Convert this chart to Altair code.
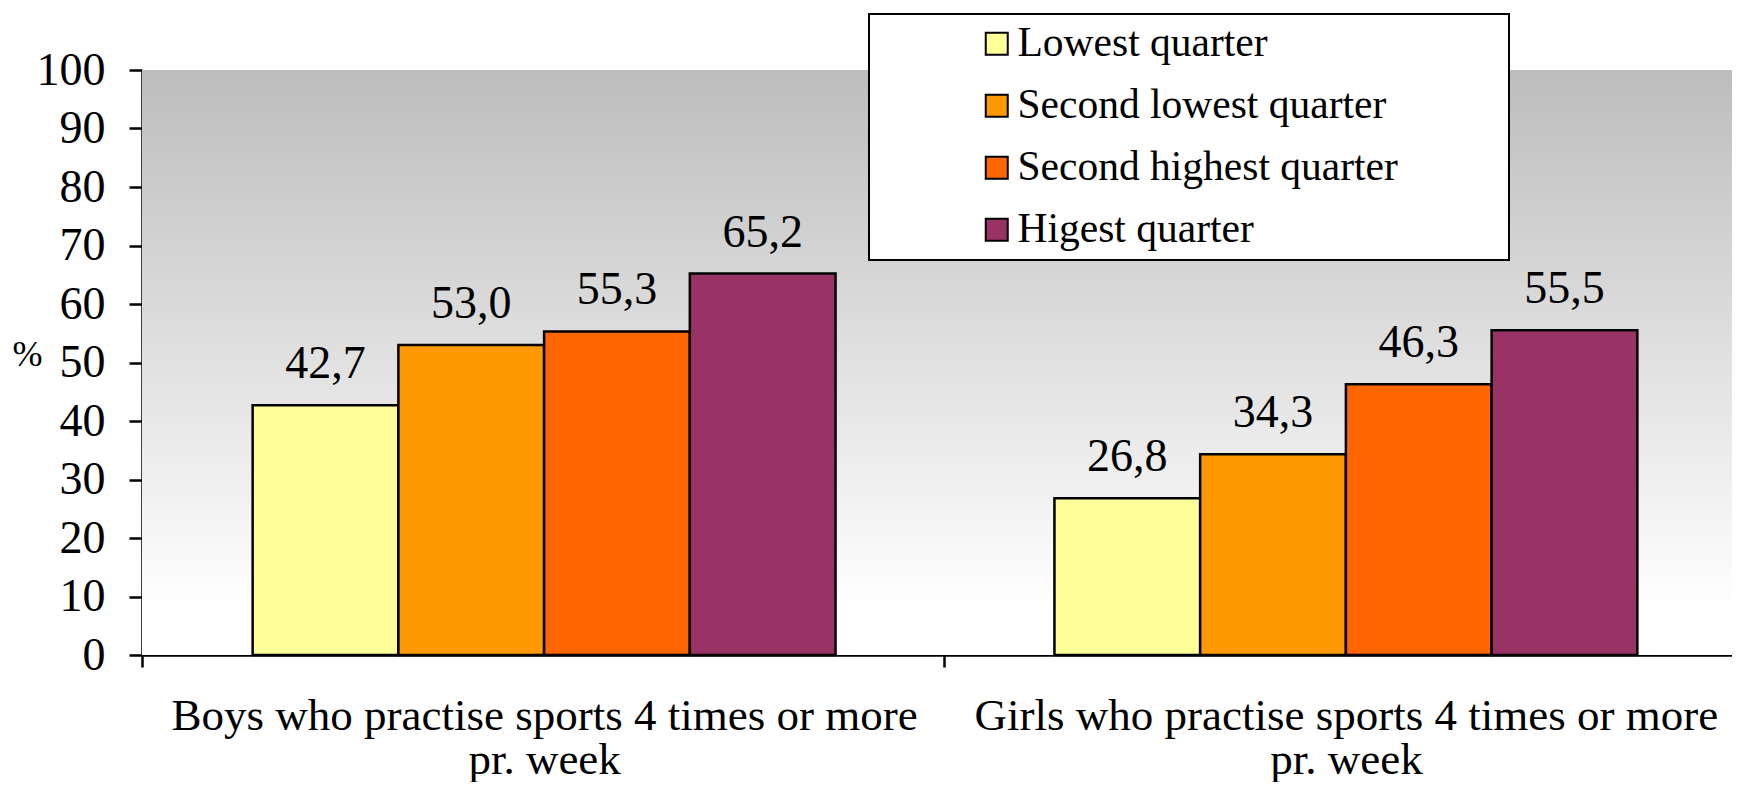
import altair as alt
import pandas as pd

categories = [
    "Boys who practise sports 4 times or more\npr. week",
    "Girls who practise sports 4 times or more\npr. week",
]
quarters = ["Lowest quarter", "Second lowest quarter", "Second highest quarter", "Higest quarter"]
colors = ["#FFFF99", "#FF9900", "#FF6600", "#993366"]
boys = [42.7, 53.0, 55.3, 65.2]
girls = [26.8, 34.3, 46.3, 55.5]
y_ticks = [0, 10, 20, 30, 40, 50, 60, 70, 80, 90, 100]

rows = []
for cat, vals in zip(categories, [boys, girls]):
    for q, v in zip(quarters, vals):
        rows.append({"category": cat, "quarter": q, "value": v})
df = pd.DataFrame(rows)
bg = pd.DataFrame({"top": [100], "bottom": [0]})

FONT = "Liberation Serif"
W = 1590          # visible plot width (fits the page)
RANGE = 1606      # x range: the second band continues past the page edge
PI, PO = 0.273, 0.138
STEP = RANGE / (2 - PI + 2 * PO)
OUTER = PO * STEP

x_enc = alt.X(
    "category:N",
    sort=categories,
    scale=alt.Scale(range=[0, RANGE], paddingInner=PI, paddingOuter=PO),
    axis=alt.Axis(
        title=None, labelAngle=0, labelExpr="split(datum.label, '\\n')",
        labelFont=FONT, labelFontSize=45, labelColor="black", labelLimit=2000,
        labelLineHeight=44, labelPadding=26, bandPosition=0, tickOffset=-OUTER,
        labelOffset=OUTER, tickSize=12,
        tickWidth=2.5, tickColor="black", domainColor="black", domainWidth=2.5,
    ),
)
y_enc = alt.Y(
    "value:Q",
    scale=alt.Scale(domain=[0, 100], nice=False),
    axis=alt.Axis(
        values=y_ticks, title="%", titleAngle=0, titleFont=FONT, titleFontSize=36,
        titleFontWeight="normal", titleColor="black", titleAlign="left",
        titleBaseline="middle", titleX=-130, titleY=284,
        labelFont=FONT, labelFontSize=46, labelColor="black", labelPadding=24,
        tickSize=13, tickWidth=2.5, tickColor="black", domainColor="black",
        domainWidth=2.5, grid=False,
    ),
)

gradient = alt.LinearGradient(
    gradient="linear", x1=0, y1=0, x2=0, y2=1,
    stops=[alt.GradientStop(offset=0, color="#bdbdbd"),
           alt.GradientStop(offset=0.92, color="#ffffff"),
           alt.GradientStop(offset=1, color="#ffffff")],
)

background = alt.Chart(bg).mark_rect(x=0, x2="width", fill=gradient).encode(
    y=alt.Y("top:Q", scale=alt.Scale(domain=[0, 100], nice=False)),
    y2="bottom:Q",
)

bars = alt.Chart(df).mark_bar(stroke="black", strokeWidth=2.5).encode(
    x=x_enc,
    xOffset=alt.XOffset("quarter:N", sort=quarters, scale=alt.Scale(paddingInner=0, paddingOuter=0)),
    y=y_enc,
    fill=alt.Fill(
        "quarter:N", sort=quarters,
        scale=alt.Scale(domain=quarters, range=colors),
        legend=alt.Legend(
            title="x", titleOrient="right", titleColor="rgba(0,0,0,0)",
            titleFontSize=10, titlePadding=96,
            orient="none", legendX=727, legendY=-56, direction="vertical",
            fillColor="white", strokeColor="black", padding=9, rowPadding=19,
            symbolType="square", symbolSize=484, symbolStrokeColor="black",
            symbolStrokeWidth=2, symbolOffset=98,
            labelFont=FONT, labelFontSize=41.5, labelColor="black",
            labelLimit=2000, labelOffset=0,
        ),
    ),
)

labels = alt.Chart(df).transform_calculate(
    txt="replace(format(datum.value, '.1f'), '.', ',')"
).mark_text(
    baseline="alphabetic", dy=-27, font=FONT, fontSize=46, color="black"
).encode(
    x=alt.X("category:N", sort=categories),
    xOffset=alt.XOffset("quarter:N", sort=quarters),
    y="value:Q",
    text="txt:N",
)

chart = alt.layer(background, bars, labels).properties(
    width=W, height=585,
    autosize=alt.AutoSizeParams(type="none"),
    padding={"left": 134, "top": 62, "right": 0, "bottom": 127},
).configure_view(stroke=None).configure_legend(strokeWidth=2)

chart.save("out.html", embed_options={"renderer": "svg", "actions": False})
